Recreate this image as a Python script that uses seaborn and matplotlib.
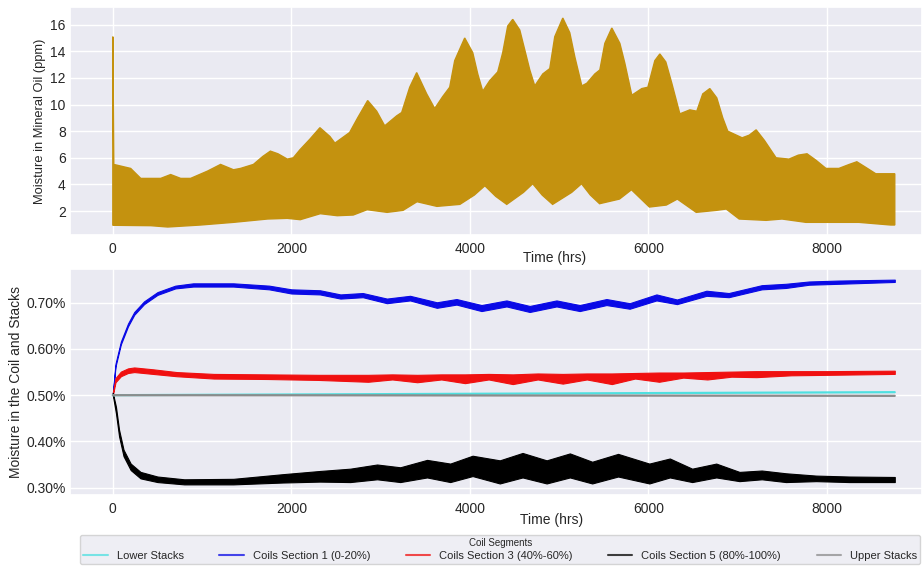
import numpy as np
import pandas as pd
import matplotlib
matplotlib.use("Agg")
import matplotlib.pyplot as plt
import seaborn as sns
from matplotlib.lines import Line2D
from matplotlib.ticker import PercentFormatter

# ---- top panel: envelope of the daily swing in oil moisture (ppm)
oil_hi_t = [0, 11, 200, 313, 536, 648, 760, 871, 1061, 1207, 1352, 1430, 1575, 1680,
            1765, 1850, 1955, 2022, 2096, 2208, 2320, 2432, 2488, 2653, 2743, 2855, 2956,
            3046, 3180, 3236, 3326, 3404, 3516, 3606, 3696, 3774, 3830, 3942, 4032, 4088,
            4144, 4223, 4312, 4368, 4424, 4480, 4559, 4615, 4671, 4727, 4817, 4895, 4951,
            5041, 5119, 5175, 5254, 5310, 5400, 5456, 5512, 5590, 5680, 5736, 5814, 5926,
            5994, 6072, 6128, 6195, 6262, 6352, 6464, 6542, 6609, 6688, 6766, 6833, 6889,
            7050, 7130, 7207, 7300, 7430, 7575, 7680, 7777, 7880, 7989, 8134, 8250, 8335,
            8430, 8547, 8760]
oil_hi_v = [15.1, 5.5, 5.2, 4.45, 4.45, 4.74, 4.45, 4.45, 5.0, 5.5, 5.1, 5.2, 5.5, 6.1,
            6.5, 6.3, 5.9, 6.0, 6.6, 7.4, 8.26, 7.6, 7.1, 7.9, 9.0, 10.3, 9.5,
            8.4, 9.15, 9.4, 11.3, 12.4, 10.8, 9.7, 10.6, 11.3, 13.3, 15.0, 13.9, 12.3,
            11.0, 11.8, 12.45, 13.9, 15.9, 16.4, 15.6, 14.1, 12.6, 11.4, 12.3, 12.7, 15.1,
            16.5, 15.4, 13.6, 11.4, 11.6, 12.3, 12.6, 14.6, 15.75, 14.6, 13.1, 10.7, 11.2,
            11.3, 13.3, 13.8, 13.2, 11.6, 9.3, 9.6, 9.5, 10.8, 11.2, 10.5, 9.0, 8.0,
            7.5, 7.7, 8.1, 7.3, 6.0, 5.9, 6.2, 6.3, 5.8, 5.2, 5.2, 5.5, 5.7,
            5.3, 4.8, 4.8]
oil_lo_t = [0, 425, 615, 983, 1352, 1732, 1955, 2100, 2324, 2514, 2693, 2849, 3073, 3251,
            3408, 3631, 3888, 4050, 4168, 4290, 4413, 4600, 4704, 4810, 4927, 5140, 5251,
            5350, 5453, 5676, 5810, 6011, 6201, 6324, 6536, 6760, 6872, 7017, 7318, 7497,
            7765, 8358, 8715, 8760]
oil_lo_v = [0.93, 0.9, 0.8, 0.95, 1.15, 1.4, 1.45, 1.35, 1.8, 1.65, 1.7, 2.1, 1.9, 2.05,
            2.7, 2.35, 2.5, 3.2, 3.9, 3.1, 2.5, 3.4, 4.05, 3.2, 2.5, 3.4, 4.05,
            3.2, 2.55, 2.9, 3.6, 2.3, 2.45, 2.9, 1.9, 2.05, 2.15, 1.4, 1.3, 1.4,
            1.15, 1.15, 0.95, 0.95]

# ---- bottom panel: coil / stack moisture (%), band edges
sec1_t = [0, 30, 90, 170, 240, 350, 500, 700, 900, 1350, 1750, 2000, 2320, 2550, 2800,
          3070, 3330, 3630, 3850, 4130, 4410, 4670, 4970, 5230, 5530, 5790, 6090, 6320,
          6650, 6900, 7270, 7540, 7800, 8130, 8760]
sec1_lo = [0.500, 0.562, 0.610, 0.649, 0.674, 0.697, 0.717, 0.731, 0.735, 0.735, 0.729,
           0.720, 0.718, 0.709, 0.712, 0.699, 0.705, 0.689, 0.696, 0.682, 0.692, 0.680,
           0.692, 0.682, 0.695, 0.687, 0.705, 0.697, 0.715, 0.712, 0.729, 0.732, 0.739,
           0.741, 0.745]
sec1_hi = [0.504, 0.568, 0.616, 0.655, 0.680, 0.703, 0.723, 0.737, 0.742, 0.742, 0.737,
           0.729, 0.727, 0.718, 0.721, 0.709, 0.715, 0.701, 0.708, 0.695, 0.705, 0.693,
           0.705, 0.695, 0.708, 0.699, 0.718, 0.707, 0.726, 0.721, 0.738, 0.741, 0.746,
           0.748, 0.750]

sec3_t = [0, 30, 90, 170, 240, 450, 715, 1130, 1730, 2300, 2860, 3130, 3410, 3680, 3945,
          4210, 4480, 4760, 5040, 5310, 5590, 5850, 6120, 6390, 6660, 6930, 7210, 7600,
          8000, 8760]
sec3_lo = [0.500, 0.528, 0.541, 0.548, 0.550, 0.546, 0.541, 0.536, 0.535, 0.533, 0.529,
           0.534, 0.528, 0.534, 0.526, 0.534, 0.524, 0.534, 0.525, 0.534, 0.524, 0.536,
           0.529, 0.538, 0.534, 0.540, 0.539, 0.543, 0.544, 0.546]
sec3_hi = [0.505, 0.537, 0.551, 0.558, 0.560, 0.556, 0.550, 0.546, 0.545, 0.544, 0.544,
           0.545, 0.544, 0.545, 0.545, 0.546, 0.545, 0.547, 0.546, 0.547, 0.547, 0.548,
           0.549, 0.549, 0.550, 0.551, 0.552, 0.552, 0.552, 0.553]

sec5_t = [0, 35, 70, 120, 200, 310, 500, 800, 1350, 1900, 2320, 2660, 2960, 3220, 3520,
          3780, 4030, 4335, 4590, 4860, 5120, 5370, 5660, 6010, 6240, 6490, 6760, 7020,
          7270, 7540, 7880, 8250, 8760]
sec5_lo = [0.500, 0.461, 0.411, 0.368, 0.338, 0.320, 0.312, 0.307, 0.307, 0.311, 0.313,
           0.312, 0.318, 0.312, 0.322, 0.312, 0.325, 0.309, 0.322, 0.309, 0.322, 0.309,
           0.324, 0.309, 0.322, 0.312, 0.322, 0.314, 0.318, 0.312, 0.314, 0.312, 0.312]
sec5_hi = [0.505, 0.475, 0.425, 0.382, 0.352, 0.334, 0.324, 0.318, 0.319, 0.329, 0.336,
           0.341, 0.350, 0.344, 0.360, 0.352, 0.369, 0.359, 0.375, 0.359, 0.374, 0.356,
           0.373, 0.352, 0.363, 0.341, 0.352, 0.334, 0.337, 0.331, 0.326, 0.324, 0.323]

stack_t = [0, 2000, 4000, 6000, 8760]
lower_stack = [0.500, 0.5015, 0.503, 0.5045, 0.5065]
upper_stack = [0.500, 0.4998, 0.4994, 0.4990, 0.4985]

segments = ["Lower Stacks", "Coils Section 1 (0-20%)", "Coils Section 3 (40%-60%)",
            "Coils Section 5 (80%-100%)", "Upper Stacks"]
colors = ["#4fe0e0", "#0a0ae6", "#f01010", "#000000", "#8c8c8c"]
x_ticks = [0, 2000, 4000, 6000, 8000]

sns.set_theme(style="darkgrid")
plt.rcParams['font.family'] = ['Liberation Sans', 'DejaVu Sans']

fig = plt.figure(figsize=(9.22, 5.68), dpi=100)
ax1 = fig.add_axes([0.0759, 0.5863, 0.9241, 0.4007])
ax2 = fig.add_axes([0.0759, 0.1285, 0.9241, 0.3979])

# top: oil moisture band
gold = "#c4920f"
band_x = np.r_[oil_hi_t, oil_lo_t[::-1]]
band_y = np.r_[oil_hi_v, oil_lo_v[::-1]]
ax1.fill(band_x, band_y, color=gold, lw=1.0, ec=gold)
ax1.set_xlim(-480, 9065)
ax1.set_ylim(0.2, 17.3)
ax1.set_yticks([2, 4, 6, 8, 10, 12, 14, 16])
ax1.set_xticks(x_ticks)
ax1.set_ylabel("Moisture in Mineral Oil (ppm)", fontsize=9.3)
ax1.set_xlabel("Time (hrs)", fontsize=10)
ax1.xaxis.set_label_coords(0.569, -0.072)
ax1.yaxis.set_label_coords(-0.028, 0.5)

# bottom: stacks as plain lines, coil sections as swing bands
stacks = pd.DataFrame({
    "time": stack_t * 2,
    "moisture": lower_stack + upper_stack,
    "segment": ["Lower Stacks"] * len(stack_t) + ["Upper Stacks"] * len(stack_t),
})
sns.lineplot(data=stacks, x="time", y="moisture", hue="segment",
             palette={"Lower Stacks": colors[0], "Upper Stacks": colors[4]},
             ax=ax2, legend=False, lw=1.6)
for t, lo, hi, c in [(sec1_t, sec1_lo, sec1_hi, colors[1]),
                     (sec3_t, sec3_lo, sec3_hi, colors[2]),
                     (sec5_t, sec5_lo, sec5_hi, colors[3])]:
    ax2.fill_between(t, lo, hi, color=c, lw=0.8, ec=c)

ax2.set_xlim(-480, 9065)
ax2.set_ylim(0.284, 0.773)
ax2.set_yticks([0.30, 0.40, 0.50, 0.60, 0.70])
ax2.yaxis.set_major_formatter(PercentFormatter(xmax=100, decimals=2))
ax2.set_xticks(x_ticks)
ax2.set_ylabel("Moisture in the Coil and Stacks", fontsize=10)
ax2.set_xlabel("Time (hrs)", fontsize=10)
ax2.xaxis.set_label_coords(0.565, -0.08)
ax2.yaxis.set_label_coords(-0.055, 0.5)

for ax in (ax1, ax2):
    ax.tick_params(axis="x", labelsize=10, length=0, pad=5)
    ax.tick_params(axis="y", labelsize=10, length=0, pad=3)

handles = [Line2D([0], [0], color=c, lw=1.5, alpha=0.75) for c in colors]
leg = fig.legend(handles, segments, loc="center", bbox_to_anchor=(0.5425, 0.0325),
                 ncol=5, title="Coil Segments", fontsize=8, title_fontsize=7,
                 frameon=True, facecolor="#eaeaf2", edgecolor="#cccccc",
                 columnspacing=3.2, handlelength=2.2, borderpad=0.3, labelspacing=0.2)

fig.savefig("out.png", dpi=100)
